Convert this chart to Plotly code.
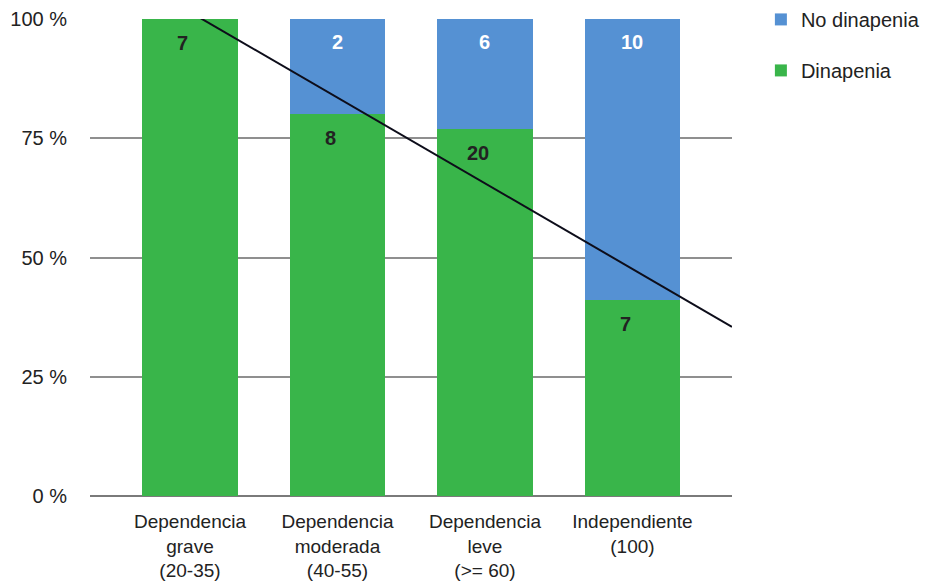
import numpy as np
import plotly.graph_objects as go

categories = ["Dependencia<br>grave<br>(20-35)", "Dependencia<br>moderada<br>(40-55)",
              "Dependencia<br>leve<br>(>= 60)", "Independiente<br>(100)"]
dinapenia = [7, 8, 20, 7]
no_dinapenia = [0, 2, 6, 10]
y_ticks = [0, 25, 50, 75, 100]
y_tick_labels = ["0 %", "25 %", "50 %", "75 %", "100 %"]

green = "#39b54a"
blue = "#5591d3"
FONT = "Liberation Sans, Arial, sans-serif"

tot = np.array(dinapenia) + np.array(no_dinapenia)
pct_d = np.array(dinapenia) / tot * 100
pct_n = np.array(no_dinapenia) / tot * 100
xi = np.arange(len(categories))

fig = go.Figure()
fig.add_trace(go.Bar(x=xi, y=pct_d, name="Dinapenia", marker=dict(color=green, line=dict(width=0)),
                     width=0.645, legendgroup="a", legendrank=2, hoverinfo="skip"))
fig.add_trace(go.Bar(x=xi, y=pct_n, name="No dinapenia", marker=dict(color=blue, line=dict(width=0)),
                     width=0.645, legendgroup="b", legendrank=1, hoverinfo="skip"))

# linear trendline of Dinapenia percentage
m, b = np.polyfit(xi, pct_d, 1)
xr = [-0.678, 3.675]
fig.add_trace(go.Scatter(x=xr, y=[m * v + b for v in xr], mode="lines",
                         line=dict(color="#0d0d1a", width=2), showlegend=False, hoverinfo="skip"))

ann = []
for i in range(len(categories)):
    ann.append(dict(x=xi[i], y=pct_d[i], text="<b>" + str(dinapenia[i]) + "</b>", showarrow=False,
                    yshift=-24, xshift=-7,
                    font=dict(size=20, color="#222222", family=FONT), xref="x", yref="y"))
    if no_dinapenia[i] > 0:
        ann.append(dict(x=xi[i], y=100, text="<b>" + str(no_dinapenia[i]) + "</b>", showarrow=False,
                        yshift=-23,
                        font=dict(size=20, color="white", family=FONT), xref="x", yref="y"))

fig.update_layout(
    width=938, height=584,
    margin=dict(l=90, r=206, t=19, b=88, autoexpand=False),
    barmode="stack",
    plot_bgcolor="white", paper_bgcolor="white",
    font=dict(family=FONT, size=20, color="#222222"),
    annotations=ann,
    legend=dict(x=1.045, y=1.04, xanchor="left", yanchor="top", traceorder="grouped",
                tracegroupgap=22, font=dict(size=20, color="#222222")),
    xaxis=dict(range=[-0.678, 3.675], tickvals=list(xi), ticktext=categories, showgrid=False,
               zeroline=False, showline=False, ticks="", ticklabelstandoff=12, fixedrange=True,
               automargin=False, tickfont=dict(size=19)),
    yaxis=dict(range=[0, 100], tickvals=y_ticks, ticktext=y_tick_labels, showgrid=True,
               gridcolor="#8f8f8f", gridwidth=2, zeroline=True, zerolinecolor="#7a7a7a", zerolinewidth=2,
               ticks="", ticklabelstandoff=22, fixedrange=True, automargin=False),
)
fig.write_html("out.html")
